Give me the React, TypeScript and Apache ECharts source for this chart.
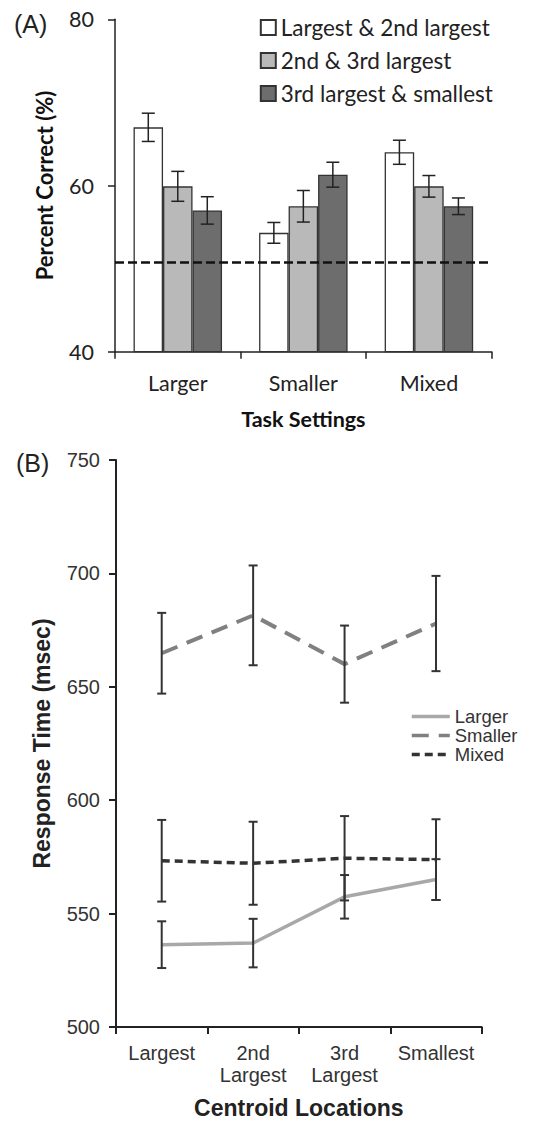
import React, { useEffect, useRef } from "react";
import * as echarts from "echarts";

// ---- Panel A data ----
const taskCategories = ["Larger", "Smaller", "Mixed"];
const barSeriesNames = ["Largest & 2nd largest", "2nd & 3rd largest", "3rd largest & smallest"];
const pctLargest2nd = [67.0, 54.3, 64.0];
const pct2nd3rd = [59.9, 57.5, 59.9];
const pct3rdSmallest = [57.0, 61.3, 57.5];
const errLargest2nd = [1.7, 1.25, 1.45];
const err2nd3rd = [1.8, 1.9, 1.3];
const err3rdSmallest = [1.65, 1.5, 1.0];
const chanceLevel = 50.8;
const pctTicks = { min: 40, max: 80, interval: 20 };

// ---- Panel B data ----
const centroidCategories = ["Largest", "2nd\nLargest", "3rd\nLargest", "Smallest"];
const lineSeriesNames = ["Larger", "Smaller", "Mixed"];
const rtLarger = [536.3, 537.0, 557.4, 565.0];
const rtSmaller = [664.8, 681.5, 660.0, 677.9];
const rtMixed = [573.3, 572.2, 574.4, 573.8];
const errLarger = [10.3, 10.7, 9.6, 9.0];
const errSmaller = [17.8, 22.0, 17.0, 21.0];
const errMixed = [18.0, 18.3, 18.6, 17.8];
const rtTicks = { min: 500, max: 750, interval: 50 };

const BAR_W = 29.5;

function errorSeries(axisIdx: number, means: number[], errs: number[], offsetPx: number, capHalf: number, color: string, width: number) {
  return {
    type: "custom",
    xAxisIndex: axisIdx,
    yAxisIndex: axisIdx,
    silent: true,
    z: 4,
    encode: { x: 0, y: [1, 2] },
    data: means.map((m, i) => [i, m - errs[i], m + errs[i]]),
    renderItem: (params: any, api: any) => {
      const i = api.value(0);
      const lo = api.coord([i, api.value(1)]);
      const hi = api.coord([i, api.value(2)]);
      const x = lo[0] + offsetPx;
      const style = { stroke: color, lineWidth: width, fill: "none" };
      return {
        type: "group",
        children: [
          { type: "line", shape: { x1: x, y1: hi[1], x2: x, y2: lo[1] }, style },
          { type: "line", shape: { x1: x - capHalf, y1: hi[1], x2: x + capHalf, y2: hi[1] }, style },
          { type: "line", shape: { x1: x - capHalf, y1: lo[1], x2: x + capHalf, y2: lo[1] }, style },
        ],
      };
    },
  };
}

export default function App() {
  const ref = useRef<HTMLDivElement>(null);
  useEffect(() => {
    if (!ref.current) return;
    const chart = echarts.init(ref.current, undefined, { renderer: "svg" });
    const axisColor = "#222";
    const fillColors = ["#ffffff", "#b9b9b9", "#6d6d6d"];
    const barData = [pctLargest2nd, pct2nd3rd, pct3rdSmallest];
    const barErrs = [errLargest2nd, err2nd3rd, err3rdSmallest];

    const option: any = {
      animation: false,
      textStyle: { fontFamily: "Lato" },
      grid: [
        { left: 115, top: 19.3, width: 376.7, height: 332.4 },
        { left: 116, top: 460, width: 365.7, height: 572 },
      ],
      xAxis: [
        {
          gridIndex: 0,
          type: "category",
          data: taskCategories,
          axisLine: { show: true, lineStyle: { color: axisColor, width: 1.5 } },
          axisTick: { show: true, length: 7, lineStyle: { color: axisColor, width: 1.5 } },
          axisLabel: { fontFamily: "Lato", fontSize: 21.5, color: "#222", margin: 20 },
          name: "Task Settings",
          nameLocation: "middle",
          nameGap: 56,
          nameTextStyle: { fontFamily: "Lato", fontWeight: "bold", fontSize: 21.5, color: "#111" },
        },
        {
          gridIndex: 1,
          type: "category",
          data: centroidCategories,
          axisLine: { show: true, lineStyle: { color: "#222", width: 2 } },
          axisTick: { show: true, length: 7, lineStyle: { color: "#222", width: 2 } },
          axisLabel: { interval: 0, fontFamily: "Liberation Sans", fontSize: 20, lineHeight: 22, color: "#333", margin: 15 },
          name: "Centroid Locations",
          nameLocation: "middle",
          nameGap: 69,
          nameTextStyle: { fontFamily: "Liberation Sans", fontWeight: "bold", fontSize: 23, color: "#222" },
        },
      ],
      yAxis: [
        {
          gridIndex: 0,
          type: "value",
          min: pctTicks.min,
          max: pctTicks.max,
          interval: pctTicks.interval,
          axisLine: { show: true, lineStyle: { color: axisColor, width: 1.5 } },
          axisTick: { show: true, length: 7, lineStyle: { color: axisColor, width: 1.5 } },
          splitLine: { show: false },
          axisLabel: { fontFamily: "Lato", fontSize: 21.5, color: "#222", margin: 21 },
          name: "Percent Correct (%)",
          nameLocation: "middle",
          nameGap: 60,
          nameTextStyle: { fontFamily: "Lato", fontWeight: "bold", fontSize: 22, color: "#111" },
        },
        {
          gridIndex: 1,
          type: "value",
          min: rtTicks.min,
          max: rtTicks.max,
          interval: rtTicks.interval,
          axisLine: { show: true, lineStyle: { color: "#222", width: 2 } },
          axisTick: { show: true, length: 7, lineStyle: { color: "#222", width: 2 } },
          splitLine: { show: false },
          axisLabel: { fontFamily: "Liberation Sans", fontSize: 20, color: "#333", margin: 16 },
          name: "Response Time (msec)",
          nameLocation: "middle",
          nameGap: 63,
          nameTextStyle: { fontFamily: "Liberation Sans", fontWeight: "bold", fontSize: 23, color: "#222" },
        },
      ],
      legend: [
        {
          data: barSeriesNames,
          orient: "vertical",
          left: 259.8,
          top: 16,
          padding: 0,
          itemWidth: 15,
          itemHeight: 15,
          itemGap: 10,
          icon: "rect",
          textStyle: { fontFamily: "Lato", fontSize: 22.5, lineHeight: 21, color: "#222" },
        },
        {
          data: lineSeriesNames,
          orient: "vertical",
          left: 410,
          top: 707,
          padding: 0,
          itemWidth: 38,
          itemHeight: 14,
          itemGap: 0,
          itemStyle: { opacity: 0 },
          lineStyle: { width: 3.5 },
          textStyle: { fontFamily: "Liberation Sans", fontSize: 18.5, lineHeight: 18, color: "#333" },
        },
      ],
      graphic: [
        { type: "text", left: 14, top: 11, style: { text: "(A)", font: '25px "Liberation Sans"', fill: "#222" } },
        { type: "text", left: 16, top: 450, style: { text: "(B)", font: '25px "Liberation Sans"', fill: "#222" } },
      ],
      series: [
        ...barSeriesNames.map((name, k) => ({
          name,
          type: "bar",
          xAxisIndex: 0,
          yAxisIndex: 0,
          barWidth: BAR_W,
          barGap: "0%",
          data: barData[k],
          itemStyle: { color: fillColors[k], borderColor: "#333", borderWidth: 1.3 },
          markLine:
            k === 0
              ? {
                  silent: true,
                  symbol: "none",
                  z: 10,
                  label: { show: false },
                  lineStyle: { color: "#111", width: 2.5, type: [9, 4] },
                  data: [{ yAxis: chanceLevel }],
                }
              : undefined,
        })),
        ...barSeriesNames.map((_, k) =>
          errorSeries(0, barData[k], barErrs[k], (k - 1) * BAR_W, 6.5, "#222", 1.5)
        ),
        {
          name: "Larger",
          type: "line",
          xAxisIndex: 1,
          yAxisIndex: 1,
          data: rtLarger,
          symbol: "none",
          z: 2,
          lineStyle: { color: "#a8a8a8", width: 3.5 },
          itemStyle: { color: "#a8a8a8" },
        },
        {
          name: "Smaller",
          type: "line",
          xAxisIndex: 1,
          yAxisIndex: 1,
          data: rtSmaller,
          symbol: "none",
          z: 2,
          lineStyle: { color: "#808080", width: 4, type: [17, 10] },
          itemStyle: { color: "#808080" },
        },
        {
          name: "Mixed",
          type: "line",
          xAxisIndex: 1,
          yAxisIndex: 1,
          data: rtMixed,
          symbol: "none",
          z: 2,
          lineStyle: { color: "#333", width: 3.5, type: [8, 5] },
          itemStyle: { color: "#333" },
        },
        errorSeries(1, rtLarger, errLarger, 0, 4.5, "#333", 2),
        errorSeries(1, rtSmaller, errSmaller, 0, 4.5, "#333", 2),
        errorSeries(1, rtMixed, errMixed, 0, 4.5, "#333", 2),
      ],
    };
    chart.setOption(option);
    return () => chart.dispose();
  }, []);
  return (
    <div
      ref={ref}
      style={{ position: "fixed", left: 0, top: 0, width: 536, height: 1124, background: "#fff" }}
    />
  );
}
